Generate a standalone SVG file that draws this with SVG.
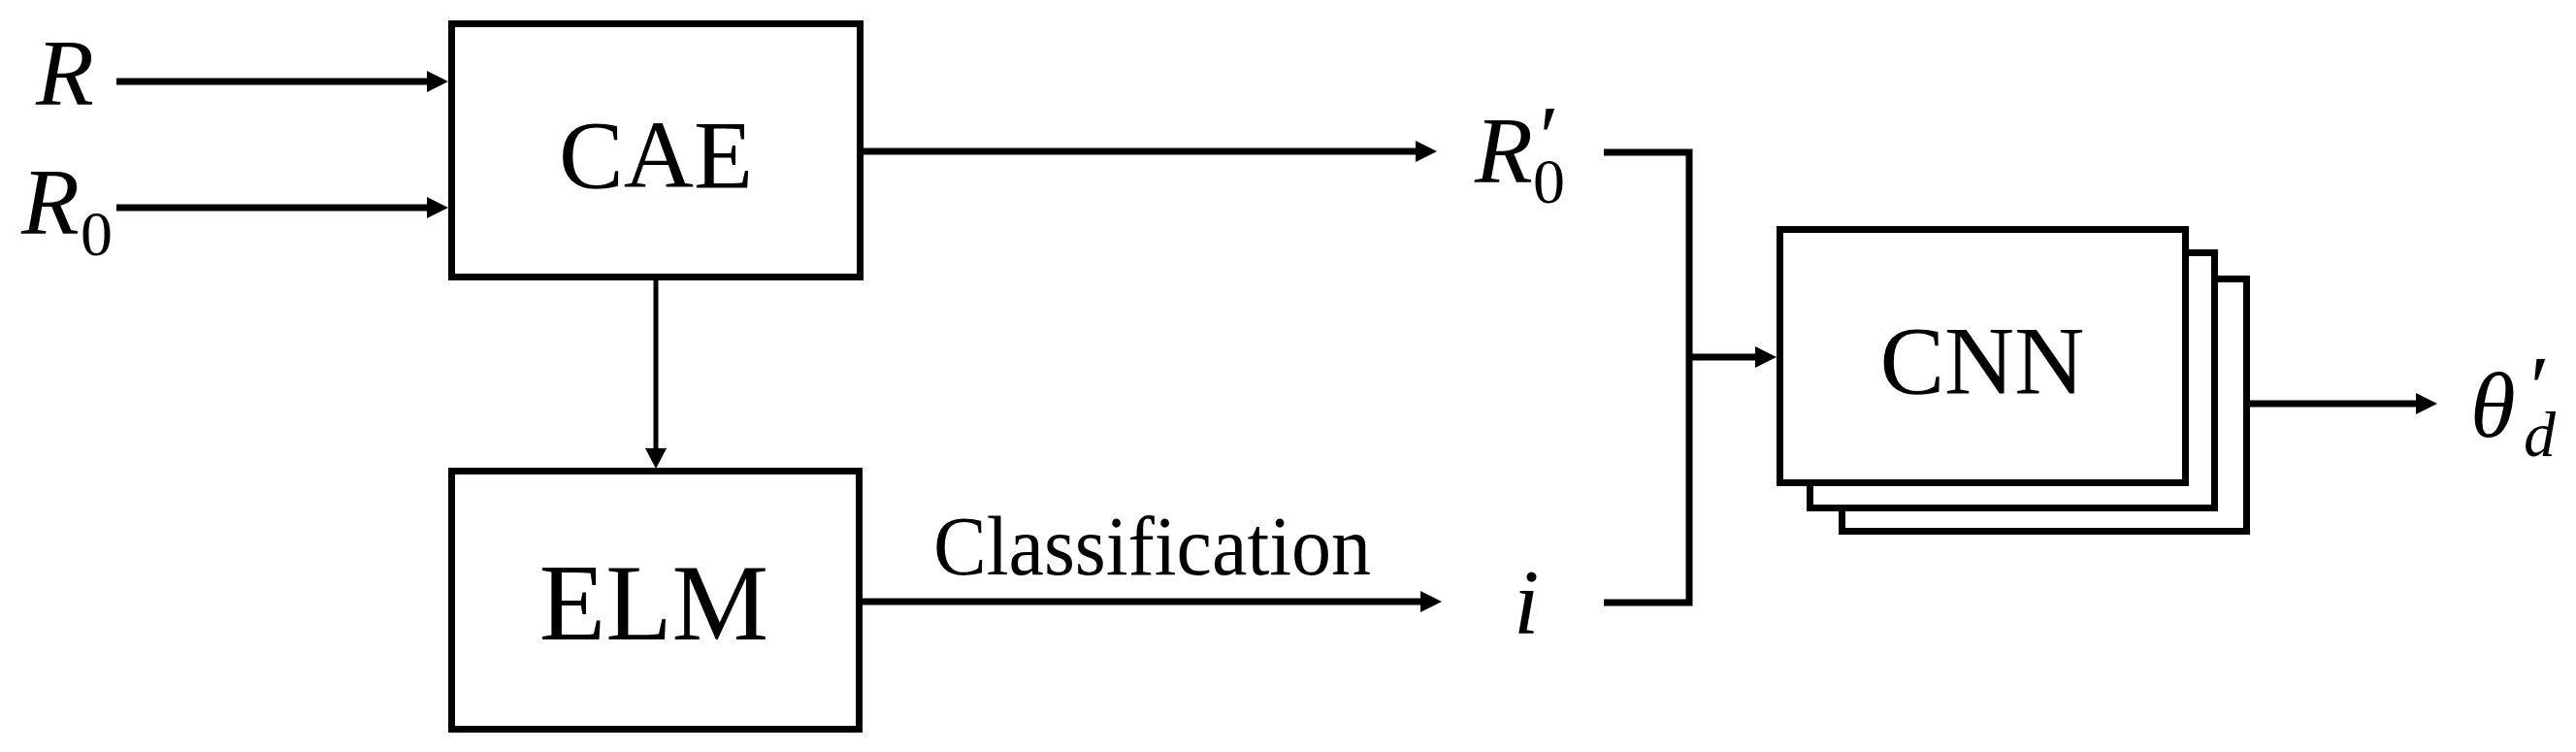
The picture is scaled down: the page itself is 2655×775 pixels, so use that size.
<svg xmlns="http://www.w3.org/2000/svg" width="2655" height="775" viewBox="0 0 2655 775">
<style>
.box{fill:#fff;stroke:#000;stroke-width:7}
.lbl{font-family:"Liberation Serif","Times New Roman",serif;fill:#000}
.it{font-style:italic}
.up{font-style:normal}
.conn{fill:none;stroke:#000;stroke-width:7}
.thin{fill:none;stroke:#000;stroke-width:5}
</style>
<defs>
<marker id="ah" markerUnits="userSpaceOnUse" markerWidth="24" markerHeight="24" refX="12" refY="11" orient="auto">
<path d="M0,0 L22,11 L0,22 z" fill="#000"/>
</marker>
<marker id="ahs" markerUnits="userSpaceOnUse" markerWidth="24" markerHeight="24" refX="10" refY="11" orient="auto">
<path d="M0,0 L21,11 L0,22 z" fill="#000"/>
</marker>
</defs>
<rect width="2655" height="775" fill="#fff"/>
<g id="connectors">
<line class="conn" x1="120" y1="84" x2="452" y2="84" marker-end="url(#ah)"/>
<line class="conn" x1="120" y1="214" x2="452" y2="214" marker-end="url(#ah)"/>
<line class="conn" x1="890" y1="156" x2="1471" y2="156" marker-end="url(#ah)"/>
<line class="thin" x1="676" y1="289" x2="676" y2="472" marker-end="url(#ahs)"/>
<line class="conn" x1="889" y1="620" x2="1476" y2="620" marker-end="url(#ah)"/>
<path class="conn" d="M1653,157 H1741 V621 H1653"/>
<line class="conn" x1="1741" y1="368" x2="1821" y2="368" marker-end="url(#ah)"/>
<line class="conn" x1="2319" y1="416" x2="2502" y2="416" marker-end="url(#ah)"/>
</g>
<g id="label-R">
<text class="lbl it" x="37" y="108" font-size="98">R</text>
</g>
<g id="label-R0">
<text class="lbl it" font-size="98"><tspan x="22" y="241">R</tspan><tspan class="up" x="83" y="263" font-size="66">0</tspan></text>
</g>
<g id="node-CAE">
<rect class="box" x="465.5" y="24.5" width="421" height="261"/>
<text class="lbl" x="676" y="193" font-size="100" text-anchor="middle">CAE</text>
</g>
<g id="node-ELM">
<rect class="box" x="465.5" y="485.5" width="420" height="266"/>
<text class="lbl" x="674" y="659" font-size="112" text-anchor="middle">ELM</text>
</g>
<g id="label-classification">
<text class="lbl" x="962" y="592" font-size="86" textLength="451" lengthAdjust="spacingAndGlyphs">Classification</text>
</g>
<g id="label-R0prime">
<text class="lbl it" font-size="98"><tspan x="1520" y="188">R</tspan><tspan x="1581" y="172" font-size="92">′</tspan><tspan class="up" x="1580" y="209" font-size="66">0</tspan></text>
</g>
<g id="label-i">
<text class="lbl it" x="1560" y="653" font-size="95">i</text>
</g>
<g id="node-CNN">
<rect class="box" x="1898.5" y="287.5" width="417" height="260"/>
<rect class="box" x="1865.5" y="260.5" width="417" height="263"/>
<rect class="box" x="1834.5" y="236.5" width="418" height="261"/>
<text class="lbl" x="2043" y="405" font-size="100" text-anchor="middle">CNN</text>
</g>
<g id="label-theta">
<text class="lbl it" font-size="95"><tspan x="2546" y="450">θ</tspan><tspan x="2602" y="430" font-size="92">′</tspan><tspan x="2601" y="470" font-size="66">d</tspan></text>
</g>
</svg>
